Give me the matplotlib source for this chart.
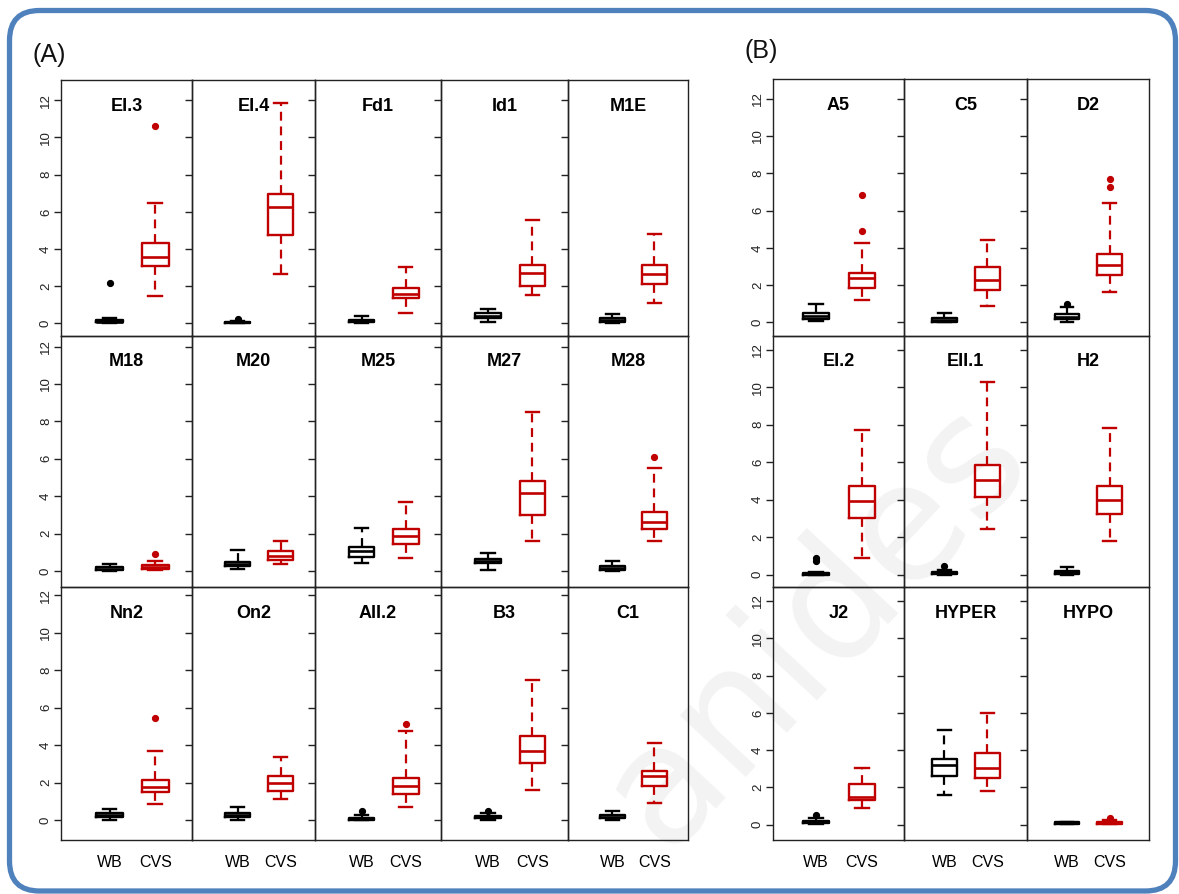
import matplotlib
matplotlib.use("Agg")
import matplotlib.pyplot as plt
from matplotlib.patches import FancyBboxPatch
from matplotlib import font_manager

# ---------------------------------------------------------------- data
GROUPS = ["WB", "CVS"]

A_NAMES = ["EI.3", "EI.4", "Fd1", "Id1", "M1E",
           "M18", "M20", "M25", "M27", "M28",
           "Nn2", "On2", "AII.2", "B3", "C1"]
# five-number summaries: lower whisker, Q1, median, Q3, upper whisker
A_WB = [[0.00, 0.05, 0.10, 0.20, 0.30], [0.00, 0.02, 0.05, 0.10, 0.15],
        [0.00, 0.05, 0.12, 0.20, 0.40], [0.10, 0.30, 0.40, 0.55, 0.80],
        [0.00, 0.10, 0.20, 0.30, 0.50],
        [0.00, 0.05, 0.10, 0.20, 0.35], [0.10, 0.25, 0.38, 0.50, 1.10],
        [0.40, 0.75, 1.05, 1.30, 2.30], [0.07, 0.40, 0.55, 0.66, 0.98],
        [0.00, 0.04, 0.15, 0.27, 0.52],
        [0.02, 0.16, 0.27, 0.37, 0.59], [0.02, 0.15, 0.27, 0.37, 0.70],
        [0.00, 0.02, 0.07, 0.12, 0.28], [0.00, 0.10, 0.15, 0.25, 0.38],
        [0.00, 0.10, 0.18, 0.28, 0.50]]
A_CVS = [[1.45, 3.07, 3.57, 4.32, 6.45], [2.65, 4.75, 6.26, 6.96, 11.86],
         [0.57, 1.34, 1.60, 1.88, 3.06], [1.55, 2.00, 2.70, 3.15, 5.55],
         [1.10, 2.10, 2.65, 3.15, 4.80],
         [0.05, 0.12, 0.20, 0.30, 0.55], [0.35, 0.60, 0.80, 1.05, 1.60],
         [0.70, 1.45, 1.85, 2.25, 3.70], [1.60, 2.98, 4.15, 4.80, 8.52],
         [1.60, 2.23, 2.63, 3.16, 5.48],
         [0.87, 1.51, 1.80, 2.15, 3.70], [1.12, 1.58, 1.98, 2.37, 3.35],
         [0.70, 1.41, 1.85, 2.26, 4.74], [1.62, 3.07, 3.70, 4.50, 7.47],
         [0.93, 1.84, 2.37, 2.65, 4.10]]
A_WB_OUT = [[2.2], [0.22], [], [], [],
            [], [], [], [], [],
            [], [], [0.51], [0.52], []]
A_CVS_OUT = [[10.6], [], [], [], [],
             [0.9], [], [], [], [6.09],
             [5.47], [], [5.15], [], []]

B_NAMES = ["A5", "C5", "D2",
           "EI.2", "EII.1", "H2",
           "J2", "HYPER", "HYPO"]
B_WB = [[0.07, 0.18, 0.35, 0.50, 0.97], [0.00, 0.04, 0.15, 0.24, 0.52],
        [0.04, 0.18, 0.30, 0.45, 0.85],
        [0.00, 0.00, 0.03, 0.08, 0.15], [0.00, 0.02, 0.07, 0.15, 0.25],
        [0.00, 0.05, 0.12, 0.20, 0.40],
        [0.02, 0.07, 0.12, 0.21, 0.34], [1.59, 2.61, 3.20, 3.50, 5.06],
        [0.03, 0.05, 0.10, 0.14, 0.17]]
B_CVS = [[1.18, 1.87, 2.38, 2.67, 4.27], [0.90, 1.72, 2.30, 2.98, 4.43],
         [1.63, 2.53, 3.10, 3.66, 6.40],
         [0.87, 3.02, 3.93, 4.73, 7.73], [2.42, 4.14, 5.05, 5.85, 10.30],
         [1.78, 3.23, 3.98, 4.73, 7.84],
         [0.91, 1.32, 1.50, 2.16, 3.05], [1.79, 2.49, 3.05, 3.86, 5.97],
         [0.03, 0.05, 0.10, 0.15, 0.25]]
B_WB_OUT = [[], [], [1.0],
            [0.75, 0.9], [0.45], [],
            [0.52], [], []]
B_CVS_OUT = [[4.9, 6.83], [], [7.25, 7.69],
             [], [], [],
             [], [], [0.35]]

Y_TICKS = [0, 2, 4, 6, 8, 10, 12]

# ---------------------------------------------------------------- style
W, H = 1179, 894
BLACK = "#000000"
RED = "#C00000"
BORDER = "#4F81BD"

installed = {f.name for f in font_manager.fontManager.ttflist}
SANS = "Liberation Sans" if "Liberation Sans" in installed else "DejaVu Sans"
NARROW = "Liberation Sans Narrow" if "Liberation Sans Narrow" in installed else SANS
plt.rcParams["font.family"] = [SANS, "DejaVu Sans"]

fig = plt.figure(figsize=(W / 100, H / 100), dpi=100)
fig.patch.set_facecolor("white")

# full-figure pixel canvas for the frame and the faint background lettering
canvas = fig.add_axes([0, 0, 1, 1], zorder=-5)
canvas.set_xlim(0, W)
canvas.set_ylim(H, 0)
canvas.axis("off")
canvas.add_patch(FancyBboxPatch((9.5, 10.5), W - 13, H - 13.5,
                                boxstyle="round,pad=0,rounding_size=30",
                                fill=False, edgecolor=BORDER, linewidth=3.8))
canvas.text(815, 625, "anides", rotation=47, fontsize=118, color="#f3f3f3",
            ha="center", va="center", family="DejaVu Sans", zorder=-4)

canvas.text(33, 55, "(A)", fontsize=18, ha="left", va="center", color="#111111")
canvas.text(745, 51, "(B)", fontsize=18, ha="left", va="center", color="#111111")


def rect(x0, y0, x1, y1):
    return [x0 / W, 1 - y1 / H, (x1 - x0) / W, (y1 - y0) / H]


def stats_of(summary, fliers):
    lo, q1, med, q3, hi = summary
    return dict(whislo=lo, q1=q1, med=med, q3=q3, whishi=hi, fliers=fliers)


def draw_pair(ax, wb, cvs, wb_out, cvs_out):
    for pos, summ, out, col in ((1, wb, wb_out, BLACK), (2, cvs, cvs_out, RED)):
        ax.bxp([stats_of(summ, out)], positions=[pos], widths=0.58,
               capwidths=0.3, manage_ticks=False, showfliers=True,
               boxprops=dict(color=col, linewidth=1.7),
               medianprops=dict(color=col, linewidth=1.9),
               whiskerprops=dict(color=col, linewidth=1.6,
                                 linestyle=(0, (4, 2.6))),
               capprops=dict(color=col, linewidth=1.7),
               flierprops=dict(marker="o", markersize=4.2,
                               markerfacecolor=col, markeredgecolor=col))


def build(names, wb, cvs, wb_out, cvs_out, cols_x, rows_y, ylims, xlim):
    ncol = len(cols_x) - 1
    for i, name in enumerate(names):
        r, c = divmod(i, ncol)
        ax = fig.add_axes(rect(cols_x[c], rows_y[r], cols_x[c + 1], rows_y[r + 1]))
        ax.set_facecolor("none")
        draw_pair(ax, wb[i], cvs[i], wb_out[i], cvs_out[i])
        ax.set_xlim(*xlim)
        ax.set_ylim(*ylims[r])
        ax.set_yticks(Y_TICKS)
        ax.set_yticklabels([str(t) for t in Y_TICKS], rotation=90,
                           va="center", fontsize=9.5)
        ax.tick_params(axis="y", direction="out", length=5, width=1.0,
                       pad=1.5, colors="#222222", labelleft=(c == 0))
        ax.set_xticks([1, 2])
        if r == 2:
            ax.set_xticklabels(GROUPS, fontsize=11.5, family=[NARROW, "DejaVu Sans"])
            ax.tick_params(axis="x", length=0, pad=11)
        else:
            ax.set_xticklabels([])
            ax.tick_params(axis="x", length=0)
        for s in ax.spines.values():
            s.set_linewidth(1.0)
            s.set_color("#222222")
        ax.text(0.5, 0.895, name, transform=ax.transAxes, ha="center",
                va="center", fontsize=13, fontweight="bold",
                family=[NARROW, "DejaVu Sans"])


build(A_NAMES, A_WB, A_CVS, A_WB_OUT, A_CVS_OUT,
      [61, 192, 315, 441, 568, 688], [80, 335.5, 587, 840],
      [(-0.65, 13.09), (-0.86, 12.59), (-1.05, 12.44)], (-0.06, 2.8))
build(B_NAMES, B_WB, B_CVS, B_WB_OUT, B_CVS_OUT,
      [773, 904, 1027, 1149], [79, 335.5, 587, 840],
      [(-0.70, 13.06), (-0.66, 12.76), (-0.82, 12.75)], (0.06, 2.92))

fig.savefig("out.png", dpi=100, facecolor="white")
